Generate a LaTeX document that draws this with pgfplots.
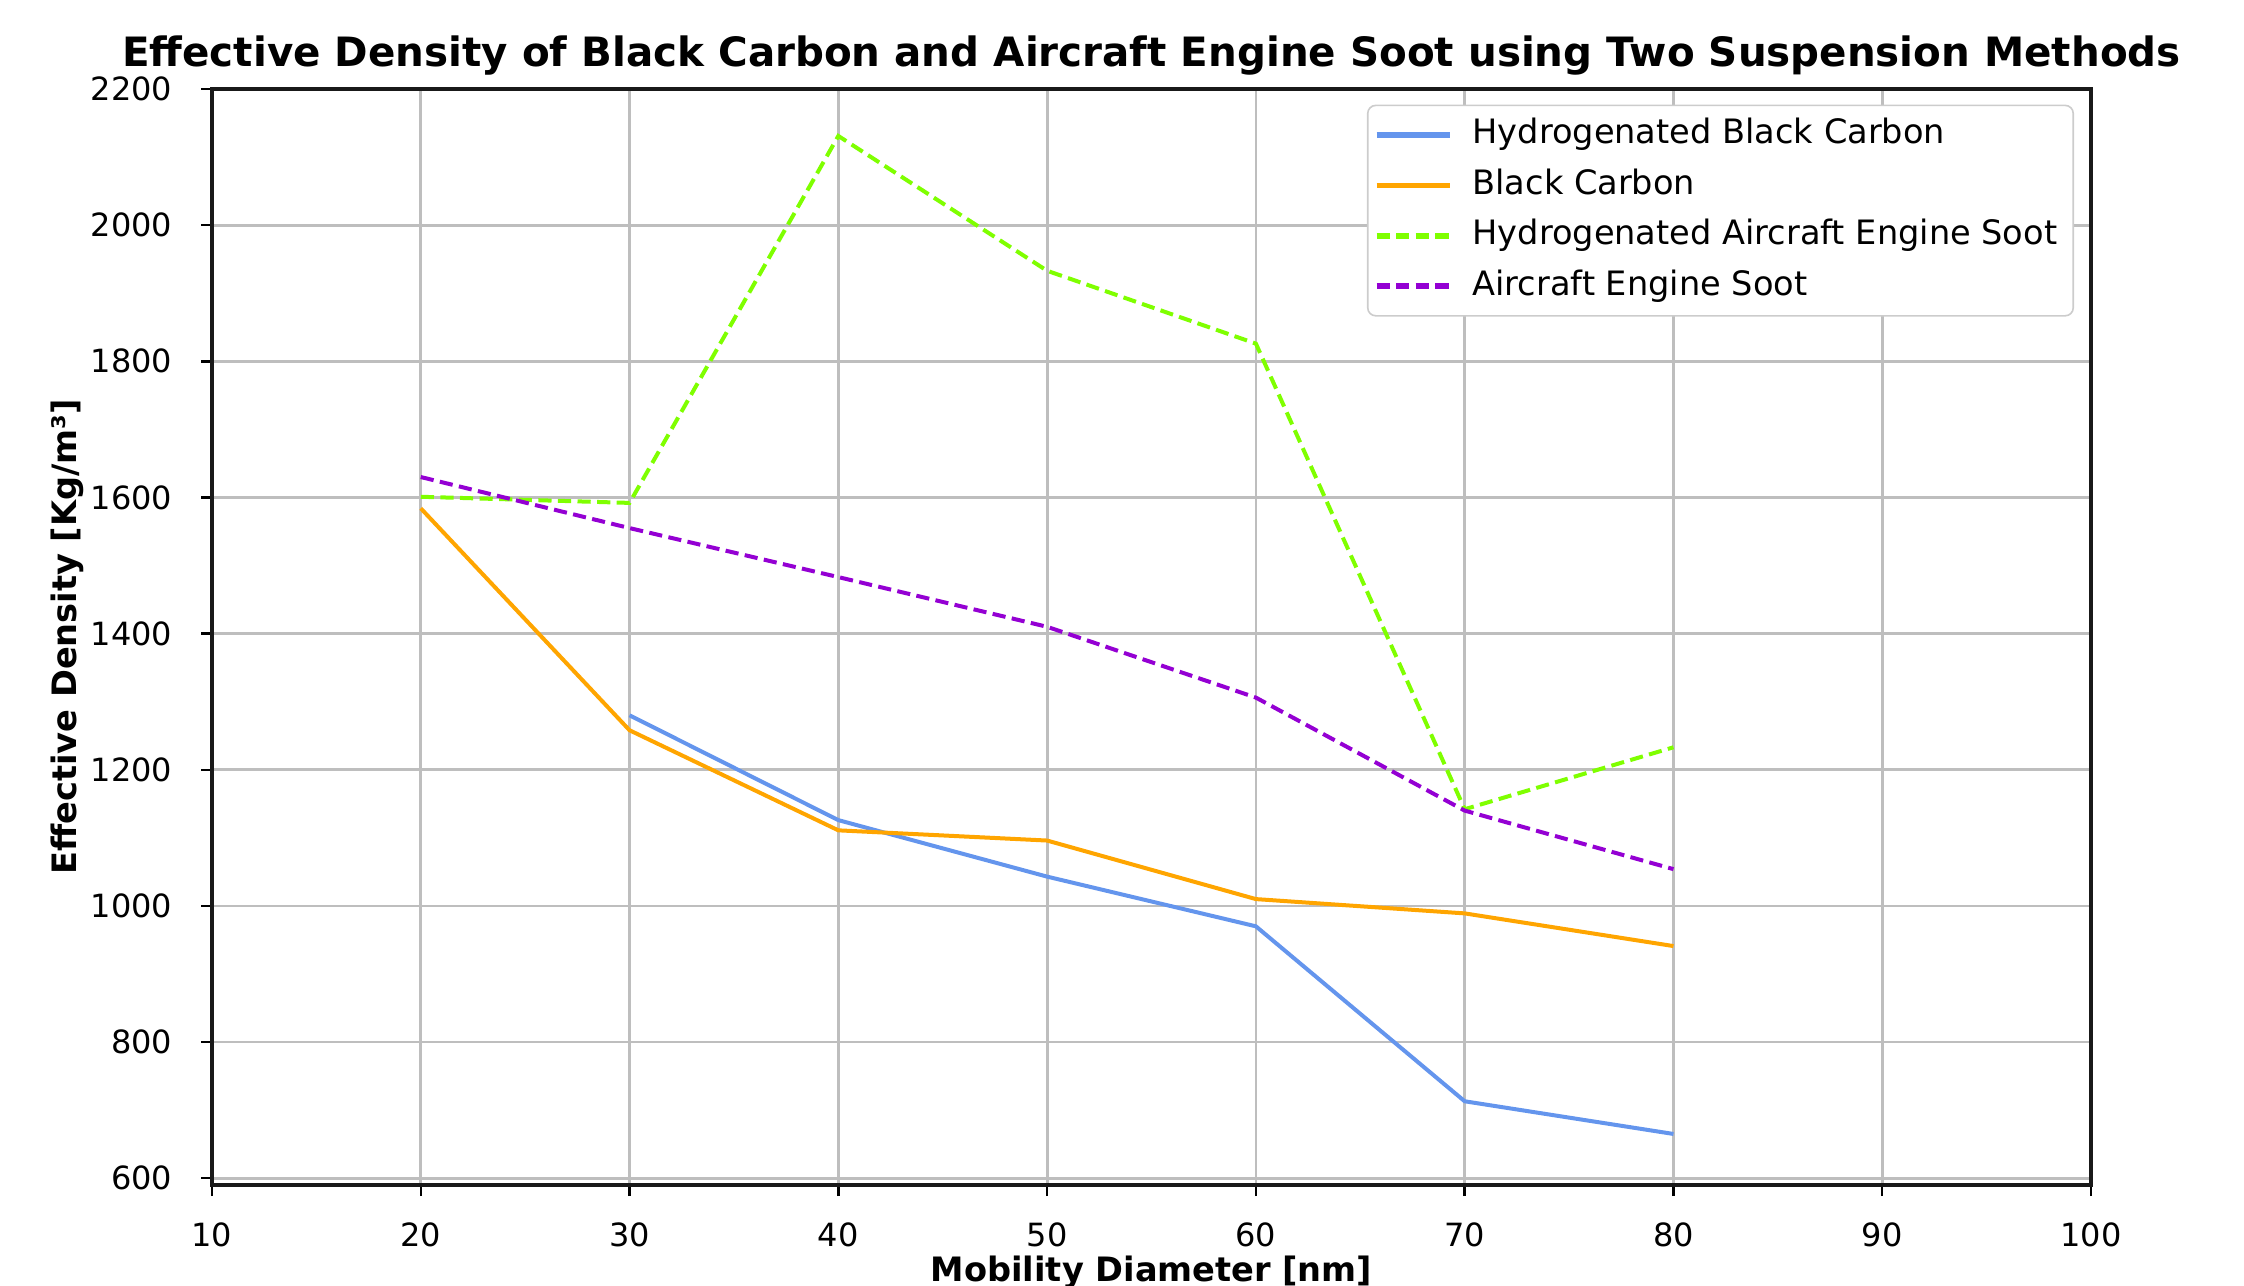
\documentclass[border=0pt]{standalone}
\usepackage{pgfplots}
\pgfplotsset{compat=1.18}
\usepackage{fontspec}
\setmainfont{DejaVu Sans}
\definecolor{cblue}{RGB}{100,149,237}
\definecolor{corange}{RGB}{255,165,0}
\definecolor{cgreen}{RGB}{127,255,0}
\definecolor{cpurple}{RGB}{148,0,211}
\definecolor{cgrid}{RGB}{190,190,190}
\begin{document}
\begin{tikzpicture}
\begin{axis}[
  scale only axis,
  width=469.75pt, height=274pt,
  xmin=10, xmax=100, ymin=590, ymax=2200,
  xtick={10,20,...,100}, ytick={600,800,...,2200},
  tick pos=left,
  /pgf/number format/assume math mode=true,
  /pgf/number format/1000 sep={},
  tick align=outside, major tick length=2.75pt,
  tick style={black, line width=0.6pt},
  axis line style={line width=0.8pt, black!90},
  grid=major,
  grid style={cgrid, line width=0.7pt},
  tick label style={font=\fontsize{8pt}{9.5pt}\selectfont},
  xticklabel style={anchor=base, yshift=-12.5pt, inner sep=0pt},
  yticklabel style={anchor=east, xshift=-7pt, inner sep=0pt},
  title={Effective Density of Black Carbon and Aircraft Engine Soot using Two Suspension Methods},
  title style={font=\fontsize{10.1pt}{12pt}\selectfont\bfseries, at={(rel axis cs:0.5,1)}, anchor=base, yshift=-0.3pt, inner sep=0pt},
  xlabel={Mobility Diameter [nm]},
  xlabel style={font=\fontsize{8.4pt}{10pt}\selectfont\bfseries, at={(rel axis cs:0.5,0)}, anchor=base, yshift=-24pt, inner sep=0pt},
  ylabel={Effective Density [Kg/m³]},
  ylabel style={font=\fontsize{8.4pt}{10pt}\selectfont\bfseries, at={(rel axis cs:0,0.5)}, anchor=center, yshift=36.2pt, inner sep=0pt},
  legend style={font=\fontsize{8.4pt}{10pt}\selectfont, at={(rel axis cs:1,1)}, anchor=north east, xshift=-4.25pt, yshift=-3.9pt, draw=black!20, rounded corners=2pt, inner xsep=1.5pt, inner ysep=1.1pt, row sep=0pt, nodes={inner xsep=2.5pt, inner ysep=2.2pt, text height=6.3pt, text depth=1.9pt}, /tikz/every odd column/.append style={column sep=2.5pt}},
  legend cell align=left,
  legend image code/.code={\draw[#1, line width=1.4pt] (0pt,0pt) -- (18.3pt,0pt);},
]
\addplot[cblue, line width=1pt] coordinates {(30,1280) (40,1126) (50,1043) (60,970) (70,713) (80,665)};
\addlegendentry{Hydrogenated Black Carbon}
\addplot[corange, line width=1pt] coordinates {(20,1584) (30,1258) (40,1111) (50,1096) (60,1010) (70,989) (80,941)};
\addlegendentry{Black Carbon}
\addplot[cgreen, line width=1pt, dash pattern=on 3.3pt off 1.6pt] coordinates {(20,1601) (30,1592) (40,2131) (50,1933) (60,1826) (70,1142) (80,1233)};
\addlegendentry{Hydrogenated Aircraft Engine Soot}
\addplot[cpurple, line width=1pt, dash pattern=on 3.3pt off 1.6pt] coordinates {(20,1630) (30,1555) (40,1483) (50,1410) (60,1306) (70,1140) (80,1054)};
\addlegendentry{Aircraft Engine Soot}
\end{axis}
\pgfresetboundingbox
\path[use as bounding box] (-53pt,-25pt) rectangle (508pt,296.25pt);
\end{tikzpicture}
\end{document}
